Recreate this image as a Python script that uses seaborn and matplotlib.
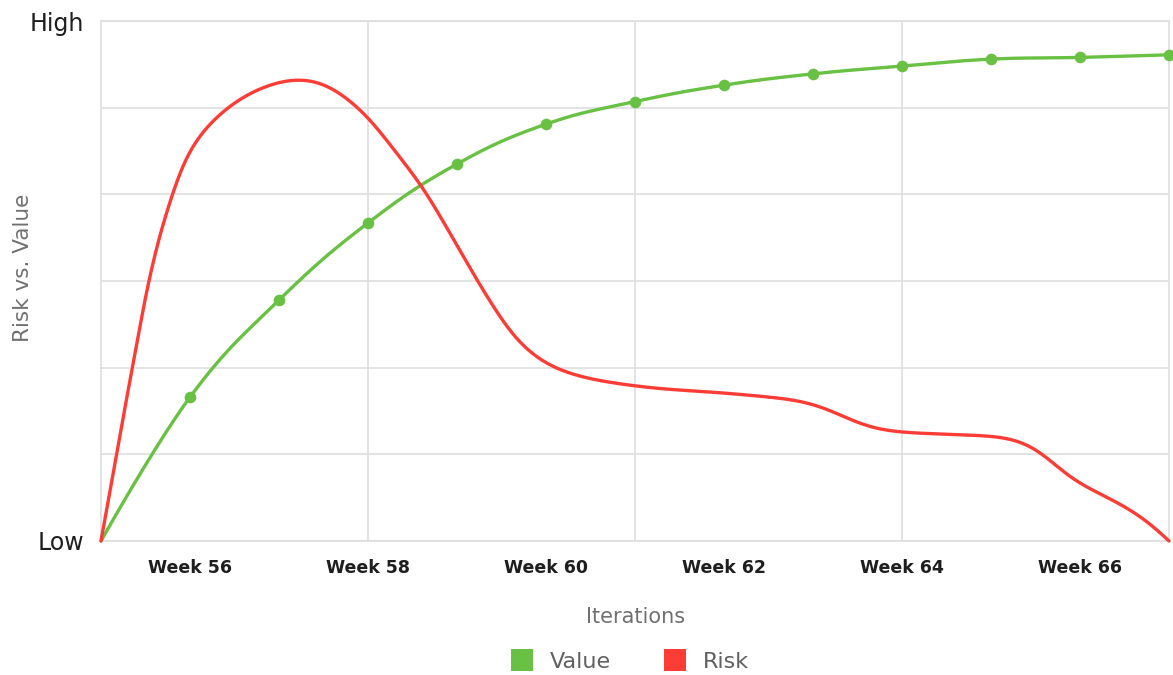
import numpy as np
import pandas as pd
import matplotlib
matplotlib.use("Agg")
import matplotlib.pyplot as plt
from matplotlib.lines import Line2D
import seaborn as sns

# ---- data -------------------------------------------------------------
weeks = [55, 56, 57, 58, 59, 60, 61, 62, 63, 64, 65, 66, 67]
value = [0.0, 1.66, 2.78, 3.67, 4.35, 4.81, 5.07, 5.26, 5.39, 5.48, 5.56, 5.58, 5.61]

# the risk curve is traced at irregular positions along the timeline
risk_weeks = [55.00, 55.26, 55.52, 55.65, 55.79, 55.90, 56.01, 56.18, 56.37, 56.62,
              56.90, 57.18, 57.47, 57.74, 57.99, 58.31, 58.61, 58.94, 59.28, 59.63,
              59.85, 60.08, 60.42, 60.75, 61.31, 61.88, 62.52, 62.85, 63.02, 63.19,
              63.39, 63.56, 63.75, 64.01, 64.54, 65.13, 65.33, 65.48, 65.63, 65.78,
              65.91, 66.08, 66.28, 66.45, 66.62, 66.75, 66.88, 67.00]
risk = [0.00, 1.49, 2.93, 3.50, 3.97, 4.30, 4.56, 4.79, 4.97, 5.16,
        5.28, 5.36, 5.33, 5.14, 4.92, 4.49, 4.10, 3.52, 2.91, 2.35,
        2.13, 1.98, 1.88, 1.82, 1.75, 1.72, 1.66, 1.63, 1.59, 1.52,
        1.41, 1.32, 1.27, 1.25, 1.23, 1.21, 1.18, 1.11, 0.97, 0.82,
        0.69, 0.61, 0.52, 0.44, 0.33, 0.24, 0.14, 0.00]

week_ticks = [56, 58, 60, 62, 64, 66]
week_labels = [f"Week {w}" for w in week_ticks]
grid_weeks = [58, 61, 64]
level_ticks = [0, 1, 2, 3, 4, 5, 6]
level_labels = ["Low", "", "", "", "", "", "High"]

GREEN = "#68c142"
RED = "#fd3c36"
GRID = "#dedede"


def spline_path(x, y, smoothing=1.5, steps=60):
    """Cubic Bezier spline through the points, control points placed from
    the neighbours and clamped so the curve never overshoots them."""
    x = np.asarray(x, float)
    y = np.asarray(y, float)
    n = len(x)
    lc = np.column_stack([x, y]).astype(float)
    rc = np.column_stack([x, y]).astype(float)
    den = smoothing + 1
    for i in range(1, n - 1):
        lx = (smoothing * x[i] + x[i - 1]) / den
        ly = (smoothing * y[i] + y[i - 1]) / den
        rx = (smoothing * x[i] + x[i + 1]) / den
        ry = (smoothing * y[i] + y[i + 1]) / den
        if rx != lx:
            corr = (ry - ly) * (rx - x[i]) / (rx - lx) + y[i] - ry
            ly += corr
            ry += corr
        if ly > y[i - 1] and ly > y[i]:
            ly = max(y[i - 1], y[i]); ry = 2 * y[i] - ly
        elif ly < y[i - 1] and ly < y[i]:
            ly = min(y[i - 1], y[i]); ry = 2 * y[i] - ly
        if ry > y[i + 1] and ry > y[i]:
            ry = max(y[i + 1], y[i]); ly = 2 * y[i] - ry
        elif ry < y[i + 1] and ry < y[i]:
            ry = min(y[i + 1], y[i]); ly = 2 * y[i] - ry
        lc[i] = (lx, ly)
        rc[i] = (rx, ry)
    t = np.linspace(0, 1, steps)[:, None]
    pts = []
    for i in range(n - 1):
        p0 = np.array([x[i], y[i]])
        p3 = np.array([x[i + 1], y[i + 1]])
        seg = ((1 - t) ** 3 * p0 + 3 * (1 - t) ** 2 * t * rc[i]
               + 3 * (1 - t) * t ** 2 * lc[i + 1] + t ** 3 * p3)
        pts.append(seg if i == 0 else seg[1:])
    pts = np.vstack(pts)
    return pts[:, 0], pts[:, 1]


def rounded_trace(x, y, sigma=0.24, n=4000):
    """Traced polyline resampled by arc length and softened with a
    Gaussian; the two end points stay fixed."""
    x = np.asarray(x, float)
    y = np.asarray(y, float)
    s = np.concatenate([[0], np.cumsum(np.hypot(np.diff(x), np.diff(y)))])
    ss = np.linspace(0, s[-1], n)
    px = np.interp(ss, s, x)
    py = np.interp(ss, s, y)
    ds = ss[1] - ss[0]
    k = int(4 * sigma / ds)
    # odd reflection about the ends keeps them in place
    px = np.concatenate([2 * px[0] - px[k:0:-1], px, 2 * px[-1] - px[-2:-k - 2:-1]])
    py = np.concatenate([2 * py[0] - py[k:0:-1], py, 2 * py[-1] - py[-2:-k - 2:-1]])
    g = np.exp(-0.5 * (np.arange(-k, k + 1) * ds / sigma) ** 2)
    g /= g.sum()
    return np.convolve(px, g, mode="valid"), np.convolve(py, g, mode="valid")


vx, vy = spline_path(weeks, value)
rx, ry = rounded_trace(risk_weeks, risk)
value_curve = pd.DataFrame({"week": vx, "level": vy})
risk_curve = pd.DataFrame({"week": rx, "level": ry})
value_points = pd.DataFrame({"week": weeks[1:], "level": value[1:]})

# ---- figure -----------------------------------------------------------
sns.set_theme(style="white")
plt.rcParams["font.family"] = ["DejaVu Sans"]

fig = plt.figure(figsize=(11.73, 6.75), dpi=100)
ax = fig.add_axes([101 / 1173, 1 - 541 / 675, 1068 / 1173, 520 / 675])

for gw in grid_weeks:
    ax.axvline(gw, color=GRID, linewidth=1.2, zorder=1)

sns.lineplot(data=value_curve, x="week", y="level", ax=ax, color=GREEN,
             linewidth=2.4, sort=False, estimator=None, zorder=3)
sns.scatterplot(data=value_points, x="week", y="level", ax=ax, color=GREEN,
                s=70, linewidth=0, zorder=4, clip_on=False)
sns.lineplot(data=risk_curve, x="week", y="level", ax=ax, color=RED,
             linewidth=2.4, sort=False, estimator=None, zorder=5)
for line in ax.lines[len(grid_weeks):]:
    line.set_clip_on(False)
    line.set_solid_capstyle("round")

ax.set_xlim(55, 67)
ax.set_ylim(0, 6)

ax.set_xticks(week_ticks)
ax.set_xticklabels(week_labels)
ax.set_yticks(level_ticks)
ax.set_yticklabels(level_labels)

ax.grid(False)
ax.grid(True, which="major", axis="y", color=GRID, linewidth=1.2, zorder=1)
ax.set_axisbelow(True)
for side in ax.spines.values():
    side.set_color(GRID)
    side.set_linewidth(1.2)

ax.tick_params(axis="x", which="both", length=0, pad=13, labelsize=12.5,
               labelcolor="#1e1e1e")
ax.tick_params(axis="y", which="both", length=0, pad=12, labelsize=17,
               labelcolor="#1e1e1e")
for lab in ax.get_xticklabels():
    lab.set_fontweight("bold")
for lab in ax.get_yticklabels():
    lab.set_fontweight("medium")

ax.set_xlabel("Iterations", fontsize=15, color="#707070")
ax.xaxis.set_label_coords((636 - 101) / 1068, (541 - 607) / 520)
ax.set_ylabel("Risk vs. Value", fontsize=15.5, color="#707070")
ax.yaxis.set_label_coords((33 - 101) / 1068, (541 - 268) / 520)

handles = [
    Line2D([], [], linestyle="none", marker="s", markersize=15.5,
           markerfacecolor=GREEN, markeredgewidth=0, label="Value"),
    Line2D([], [], linestyle="none", marker="s", markersize=15.5,
           markerfacecolor=RED, markeredgewidth=0, label="Risk"),
]
fig.legend(handles=handles, loc="center", bbox_to_anchor=(630 / 1173, 1 - 662 / 675),
           ncol=2, frameon=False, fontsize=16, labelcolor="#606060",
           handlelength=1.0, handletextpad=0.75, columnspacing=2.4)

fig.savefig("out.png", dpi=100, facecolor="white")
